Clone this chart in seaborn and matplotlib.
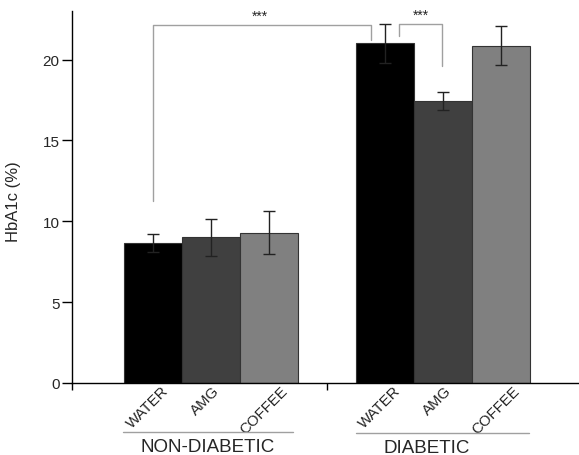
import numpy as np
import pandas as pd
import matplotlib.pyplot as plt
import matplotlib.transforms as mtransforms
import seaborn as sns

groups = ['NON-DIABETIC', 'DIABETIC']
treatments = ['WATER', 'AMG', 'COFFEE']
positions = [0, 1, 2, 4, 5, 6]
hba1c = [8.65, 9.0, 9.3, 21.0, 17.45, 20.85]
sem = [0.58, 1.13, 1.33, 1.2, 0.55, 1.2]
colors = {'WATER': '#000000', 'AMG': '#404040', 'COFFEE': '#808080'}

df = pd.DataFrame({
    'pos': positions,
    'value': hba1c,
    'treatment': treatments * 2,
})

sns.set_style('ticks')
plt.rcParams['font.family'] = ['Liberation Sans', 'DejaVu Sans']

fig = plt.figure(figsize=(5.79, 4.56), dpi=100)
ax = fig.add_axes([72 / 579, 1 - 384 / 456, 1 - 72 / 579, (384 - 12) / 456])

sns.barplot(data=df, x='pos', y='value', hue='treatment', palette=colors,
            native_scale=True, dodge=False, width=1, legend=False,
            errorbar=None, edgecolor='#333333', linewidth=0.8, ax=ax)
ax.errorbar(positions, hba1c, yerr=sem, fmt='none', ecolor='#222222',
            elinewidth=1, capsize=4, capthick=1)

ax.set_xlim(-1.39, 7.35)
ax.set_ylim(0, 23)
ax.set_yticks([0, 5, 10, 15, 20])
ax.tick_params(axis='y', labelsize=11, length=7, width=1, color='black', pad=2)
ax.set_ylabel('HbA1c (%)', fontsize=12)
ax.yaxis.set_label_coords(-0.1, 0.49)

# treatment labels under each bar
ax.set_xticks(positions)
ax.set_xticklabels(treatments * 2, rotation=45, ha='center', fontsize=10.8)
ax.tick_params(axis='x', which='major', length=0, pad=0)
offset = mtransforms.ScaledTranslation(-5 / 100, 0, fig.dpi_scale_trans)
for lbl in ax.get_xticklabels():
    lbl.set_transform(lbl.get_transform() + offset)
ax.set_xticks([-1.39, 3], minor=True)
ax.tick_params(axis='x', which='minor', length=5, width=1, color='black')
ax.set_xlabel('')

sns.despine(ax=ax)
for s in ['left', 'bottom']:
    ax.spines[s].set_color('black')
    ax.spines[s].set_linewidth(1)

# group labels with lines
trans = mtransforms.blended_transform_factory(ax.transData, ax.transAxes)
ax.plot([-0.51, 2.42], [-0.131, -0.131], color='#a0a0a0', lw=1,
        transform=trans, clip_on=False)
ax.plot([3.51, 6.49], [-0.134, -0.134], color='#a0a0a0', lw=1,
        transform=trans, clip_on=False)
ax.text(0.94, -0.147, groups[0], transform=trans, ha='center', va='top',
        fontsize=13.5)
ax.text(4.73, -0.151, groups[1], transform=trans, ha='center', va='top',
        fontsize=13.5)

# significance brackets
ax.plot([0, 0, 3.77, 3.77], [11.23, 22.15, 22.15, 21.19], color='#a0a0a0',
        lw=1, clip_on=False)
ax.plot([4.25, 4.25, 4.99, 4.99], [21.48, 22.2, 22.2, 19.59],
        color='#a0a0a0', lw=1, clip_on=False)
ax.text(1.85, 22.3, '***', ha='center', va='bottom', fontsize=10)
ax.text(4.62, 22.35, '***', ha='center', va='bottom', fontsize=10)

fig.savefig('out.png', dpi=100)
